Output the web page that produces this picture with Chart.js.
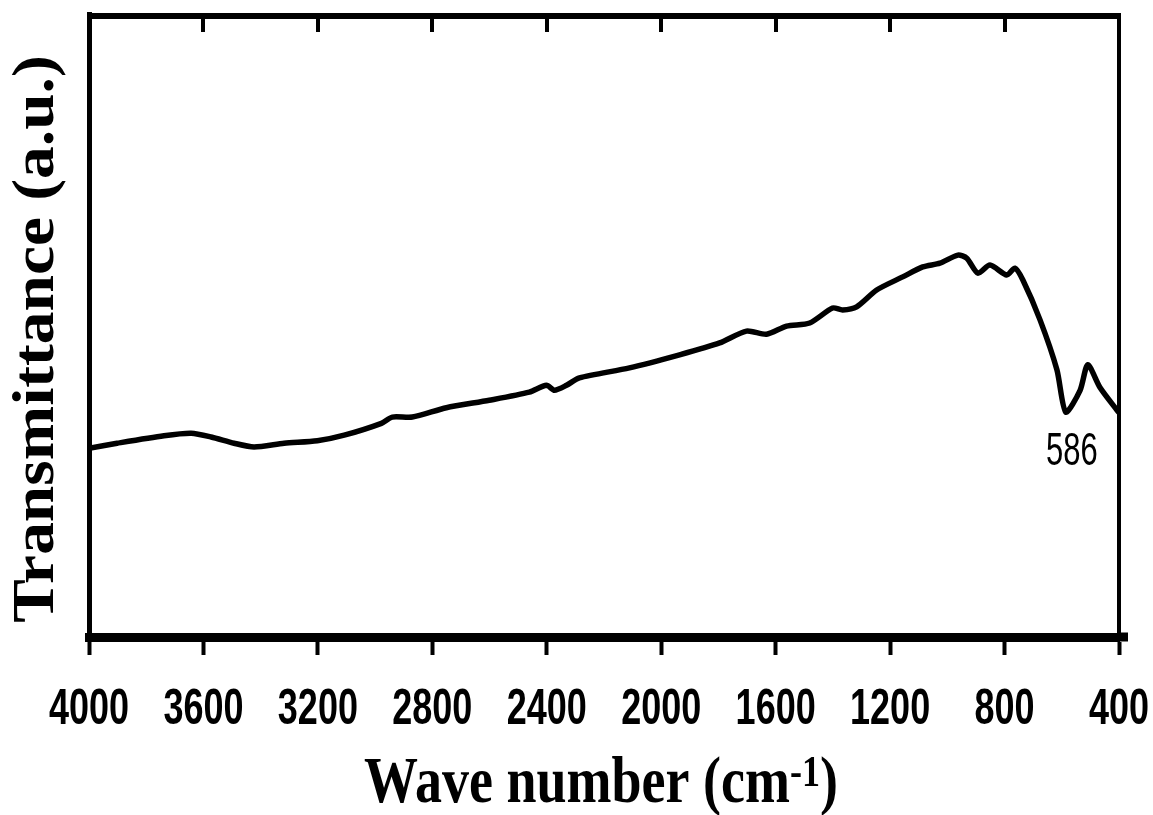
<!DOCTYPE html>
<html>
<head>
<meta charset="utf-8">
<title>FTIR spectrum</title>
<script src="https://cdn.jsdelivr.net/npm/chart.js@4/dist/chart.umd.min.js"></script>
<style>
  body { margin: 0; background: #fff; }
  canvas { display: block; }
</style>
</head>
<body>
<canvas id="myChart" width="1153" height="815"></canvas>
<script>
// values
const wavenumbers = [4000, 3902, 3738, 3643, 3573, 3493, 3423, 3318, 3202, 3108,
    2978, 2940, 2870, 2751, 2601, 2461, 2401, 2373, 2331, 2286,
    2111, 1936, 1796, 1702, 1632, 1562, 1481, 1401, 1366, 1317,
    1247, 1156, 1086, 1026, 963, 932, 893, 851, 792, 764,
    736, 676, 617, 586, 536, 509, 467, 400];
const transmittance = [30.3, 31.1, 32.3, 32.7, 32.1, 31.1, 30.5, 31.1, 31.5, 32.4,
    34.3, 35.3, 35.3, 36.8, 38.0, 39.3, 40.4, 39.6, 40.4, 41.6,
    43.2, 45.3, 47.2, 49.1, 48.6, 49.9, 50.4, 52.8, 52.5, 53.0,
    55.7, 57.8, 59.4, 60.0, 61.3, 60.8, 58.4, 59.7, 58.1, 59.2,
    57.3, 50.9, 42.9, 36.1, 39.6, 43.7, 40.1, 36.0];
const xTickStep = 400;
const peakLabels = [{ wn: 586, text: '586' }];
const xTitle = 'Wave number (cm';
const xTitleSup = '-1';
const yTitle = 'Transmittance (a.u.)';

// draws the frame, top ticks, stretched labels and titles
const decorations = {
    id: 'decorations',
    afterDraw(chart) {
        const ctx = chart.ctx;
        const area = chart.chartArea;
        const xs = chart.scales.x;
        ctx.save();
        ctx.strokeStyle = '#000';
        ctx.fillStyle = '#000';

        // top and right frame
        ctx.lineWidth = 6;
        ctx.beginPath();
        ctx.moveTo(area.left - 2, area.top + 2);
        ctx.lineTo(area.right + 2, area.top + 2);
        ctx.stroke();
        ctx.lineWidth = 4;
        ctx.beginPath();
        ctx.moveTo(area.right, area.top);
        ctx.lineTo(area.right, area.bottom);
        ctx.stroke();
        // bottom axis sticks out a bit on the right
        ctx.lineWidth = 9;
        ctx.beginPath();
        ctx.moveTo(area.right, area.bottom);
        ctx.lineTo(area.right + 9, area.bottom);
        ctx.stroke();

        // inward ticks on the top edge
        ctx.lineWidth = 4;
        xs.ticks.forEach(t => {
            const px = Math.round(xs.getPixelForValue(t.value));
            ctx.beginPath();
            ctx.moveTo(px, area.top + 4);
            ctx.lineTo(px, area.top + 18);
            ctx.stroke();
        });

        // tick labels (stretched vertically like the original)
        ctx.font = 'bold 36px "Liberation Sans", Arial, sans-serif';
        ctx.textAlign = 'center';
        ctx.textBaseline = 'middle';
        xs.ticks.forEach(t => {
            const px = xs.getPixelForValue(t.value);
            ctx.save();
            ctx.translate(px, area.bottom + 73);
            ctx.scale(1, 1.4);
            ctx.fillText(String(t.value), 0, 0);
            ctx.restore();
        });

        // peak annotation
        ctx.font = '31px "Liberation Sans", Arial, sans-serif';
        ctx.textBaseline = 'alphabetic';
        peakLabels.forEach(p => {
            const px = xs.getPixelForValue(p.wn) + 6;
            ctx.save();
            ctx.translate(px, 465);
            ctx.scale(1, 1.5);
            ctx.fillText(p.text, 0, 0);
            ctx.restore();
        });

        // x axis title with superscript
        const big = 'bold 54px "Liberation Serif", "Times New Roman", serif';
        const small = 'bold 36px "Liberation Serif", "Times New Roman", serif';
        ctx.textAlign = 'left';
        ctx.font = big;
        const w1 = ctx.measureText(xTitle).width;
        const w3 = ctx.measureText(')').width;
        ctx.font = small;
        const w2 = ctx.measureText(xTitleSup).width;
        let x0 = 601 - (w1 + w2 + w3) / 2;
        ctx.save();
        ctx.translate(0, 802);
        ctx.scale(1, 1.23);
        ctx.font = big;
        ctx.fillText(xTitle, x0, 0);
        ctx.font = small;
        ctx.fillText(xTitleSup, x0 + w1, -13);
        ctx.font = big;
        ctx.fillText(')', x0 + w1 + w2, 0);
        ctx.restore();

        // y axis title, rotated
        ctx.save();
        ctx.translate(53, 339);
        ctx.rotate(-Math.PI / 2);
        ctx.scale(1.09, 1);
        ctx.font = 'bold 60px "Liberation Serif", "Times New Roman", serif';
        ctx.textAlign = 'center';
        ctx.fillText(yTitle, 0, 0);
        ctx.restore();

        ctx.restore();
    }
};

const points = wavenumbers.map((wn, i) => ({ x: wn, y: transmittance[i] }));

new Chart(document.getElementById('myChart').getContext('2d'), {
    type: 'line',
    data: {
        datasets: [{
            data: points,
            borderColor: '#000',
            borderWidth: 5.5,
            pointRadius: 0,
            tension: 0.25,
            fill: false
        }]
    },
    options: {
        responsive: false,
        animation: false,
        devicePixelRatio: 1,
        layout: { padding: { top: 14, right: 34, left: 0, bottom: 0 } },
        plugins: { legend: { display: false }, tooltip: { enabled: false } },
        scales: {
            x: {
                type: 'linear',
                reverse: true,
                min: 400,
                max: 4000,
                ticks: { stepSize: xTickStep, display: false },
                grid: { drawOnChartArea: false, drawTicks: true, tickLength: 18, tickWidth: 4, tickColor: '#000' },
                border: { display: true, width: 9, color: '#000' },
                afterFit(scale) { scale.height = 178; }
            },
            y: {
                min: 0,
                max: 100,
                ticks: { display: false },
                grid: { display: false },
                border: { display: true, width: 5, color: '#000' },
                afterFit(scale) { scale.width = 89; }
            }
        }
    },
    plugins: [decorations]
});
</script>
</body>
</html>
